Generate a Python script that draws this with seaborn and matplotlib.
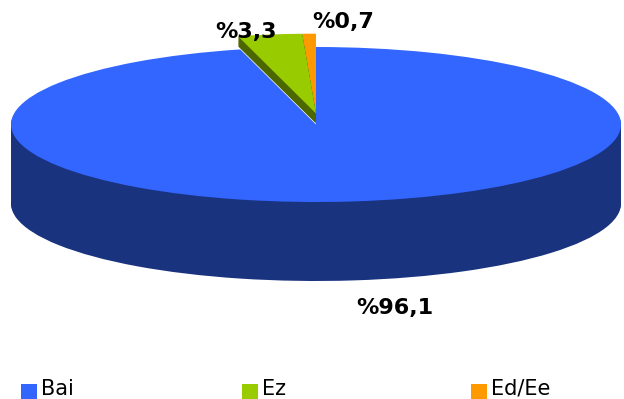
#!/usr/bin/env python3
"""Fake 3D pie chart: stacked pie layers on a squashed axes."""

import matplotlib
matplotlib.use("Agg")
import matplotlib.pyplot as plt
from matplotlib.patches import Rectangle
import seaborn as sns

categories = ["Bai", "Ez", "Ed/Ee"]
values = [96.1, 3.3, 0.7]
value_labels = ["%96,1", "%3,3", "%0,7"]
top_colors = ["#3366FF", "#99CC00", "#FF9900"]
side_colors = ["#19337F", "#4C6600", "#7F4C00"]

WIDTH, HEIGHT = 624, 399
CX, CY = 316, 124.5    # pie centre, pixels
RX, RY = 305, 77.5     # ellipse radii, pixels
AXES_TOP = 37          # wedges get cut flat here
DEPTH = 79             # height of the main body
LIFT = 11              # small slices are raised by this much
THICK = 10             # and are this thick


def draw_layer(ax, index, color, dx=0, dy=0, radius=1.0):
    """Draw the pie once and keep only the slice at index."""
    wedges, _ = ax.pie(values, startangle=90, counterclock=False, radius=radius,
                       center=(dx / RX, -dy / RY), colors=[color] * len(values),
                       wedgeprops={"linewidth": 0})
    for i, w in enumerate(wedges):
        w.set_visible(i == index)


sns.set_theme(style="white")
plt.rcParams["font.family"] = ["DejaVu Sans"]

fig = plt.figure(figsize=(WIDTH / 100, HEIGHT / 100), dpi=100)
ax = fig.add_axes([0, 0, 1, (HEIGHT - AXES_TOP) / HEIGHT])

# main body, from the bottom up
for d in range(DEPTH, 0, -1):
    draw_layer(ax, 0, side_colors[0], dy=d)
draw_layer(ax, 0, top_colors[0])

# raised slices, orange first so the green edge stays clean
slice_dx = {2: 0, 1: 0}
for idx, dx in slice_dx.items():
    for d in range(THICK, 0, -1):
        draw_layer(ax, idx, side_colors[idx], dx=dx, dy=d - LIFT, radius=1.03)
    draw_layer(ax, idx, top_colors[idx], dx=dx, dy=-LIFT, radius=1.03)

# pie() forces equal aspect, undo it to get the ellipse
ax.set_aspect("auto")
ax.set_xlim(-CX / RX, (WIDTH - CX) / RX)
ax.set_ylim((CY - HEIGHT) / RY, (CY - AXES_TOP) / RY)
ax.axis("off")

# value labels
label_pos = [(394.5, 314), (246.5, 38), (343.5, 28)]
for text, (x, y) in zip(value_labels, label_pos):
    fig.text(x / WIDTH, 1 - y / HEIGHT, text, ha="center", va="baseline",
             fontsize=16, fontweight="bold", color="black")

# legend along the bottom edge
legend_x = [21, 242, 471]
for name, color, x in zip(categories, top_colors, legend_x):
    fig.add_artist(Rectangle((x / WIDTH, 0), 16 / WIDTH, 15 / HEIGHT,
                             transform=fig.transFigure, facecolor=color, linewidth=0))
    fig.text((x + 20) / WIDTH, 0, name, ha="left", va="bottom",
             fontsize=15, color="black")

fig.savefig("out.png", dpi=100, facecolor="white")
